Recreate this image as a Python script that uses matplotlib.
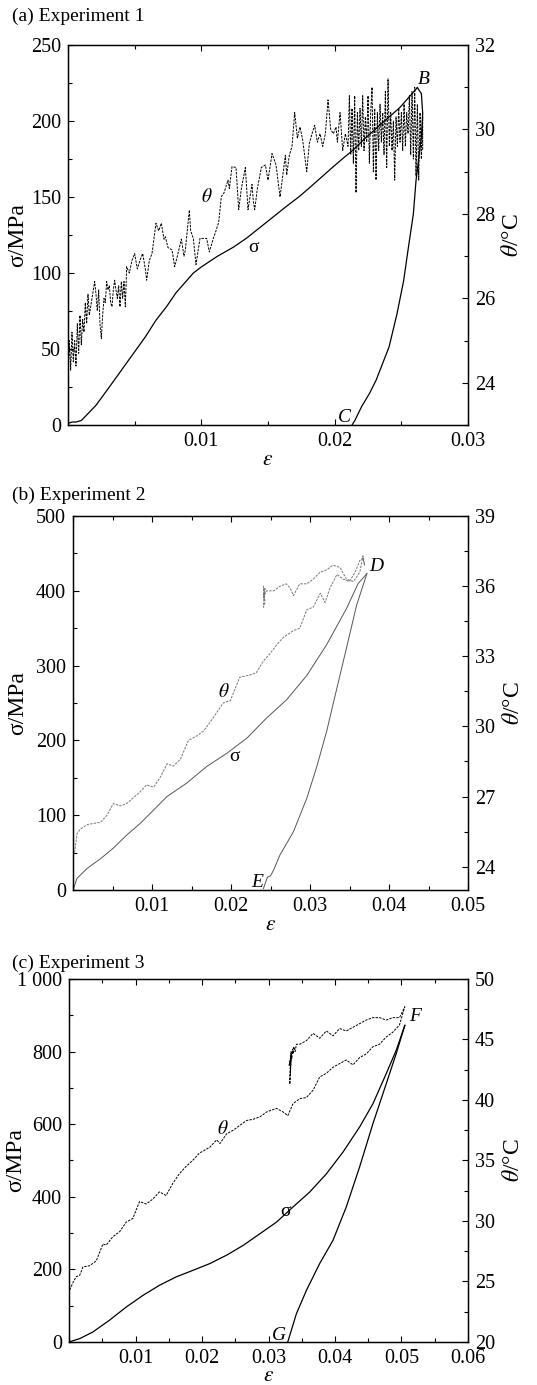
import numpy as np
import matplotlib
matplotlib.use("Agg")
import matplotlib.pyplot as plt
from matplotlib.ticker import MultipleLocator, FixedLocator

plt.rcParams['font.family'] = ['Liberation Serif', 'DejaVu Serif']
plt.rcParams['mathtext.fontset'] = 'stix'

# ---------------- Experiment 1 ----------------
eps_a_load = [0.0, 0.0003, 0.0006, 0.0010, 0.0014, 0.0021, 0.0031, 0.0040, 0.0049, 0.0058,
              0.0066, 0.0074, 0.0081, 0.0088, 0.0094, 0.0100, 0.0112, 0.0124, 0.0134, 0.0144,
              0.0154, 0.0164, 0.0173, 0.0181, 0.0190, 0.0199, 0.0207, 0.0214, 0.0222, 0.0231,
              0.0240, 0.0249, 0.0256, 0.0262]
sig_a_load = [1, 2, 2, 3, 6.6, 13, 25, 36, 47, 58,
              69, 78, 87, 94, 100, 104, 111, 117, 123, 130,
              137, 144, 150, 156, 163, 170, 176, 181, 188, 195,
              202, 209, 216, 222]
eps_a_unl = [0.0262, 0.0265, 0.0266, 0.0265, 0.0263, 0.0261, 0.0259, 0.02553, 0.02517, 0.02468,
             0.02408, 0.02311, 0.02262, 0.02201, 0.02153, 0.0213]
sig_a_unl = [222, 218, 205, 190, 175, 161, 139, 117, 95, 73.5,
             51.5, 29.6, 21, 12, 3.3, 0]

eps_a_th = [0.0000, 0.0001, 0.0002, 0.0003, 0.0004, 0.0005, 0.0006, 0.0007, 0.0008, 0.0009,
            0.0010, 0.0011, 0.0012, 0.0013, 0.0014, 0.0015, 0.0016, 0.0018, 0.0020, 0.0021,
            0.0022, 0.0023, 0.0024, 0.0025, 0.0026, 0.0027, 0.0028, 0.0029, 0.0030, 0.0031,
            0.0032, 0.0033, 0.0034, 0.0035, 0.0036, 0.0037, 0.0038, 0.0039, 0.0040, 0.0041,
            0.0042, 0.0043, 0.0044, 0.0046, 0.0048, 0.0050, 0.0052, 0.0054, 0.0056, 0.0058,
            0.0059, 0.0061, 0.0063, 0.0066, 0.0068, 0.0070, 0.0072, 0.0073, 0.0075, 0.0078,
            0.0080, 0.0082, 0.0085, 0.0087, 0.0088, 0.0091, 0.0092, 0.0094, 0.0096, 0.0099,
            0.0102, 0.0104, 0.0106, 0.0109, 0.0111, 0.0113, 0.0115, 0.0117, 0.0118, 0.0120,
            0.0121, 0.0123, 0.0126, 0.0127, 0.0128, 0.0130, 0.0133, 0.0134, 0.0135, 0.0137,
            0.0138, 0.0139, 0.0140, 0.0142, 0.0145, 0.0148, 0.0150, 0.0153, 0.0156, 0.0159,
            0.0161, 0.0163, 0.0164, 0.0166, 0.0168, 0.0170, 0.0172, 0.0174, 0.0176, 0.0179,
            0.0181, 0.0183, 0.0185, 0.0187, 0.0189, 0.0191, 0.0193, 0.0195, 0.0197, 0.0199,
            0.0201, 0.0202, 0.0204, 0.0206, 0.0208, 0.0209,
            0.0210, 0.0211, 0.0212, 0.0213, 0.0214, 0.0215, 0.0216, 0.0217, 0.0218, 0.0219,
            0.0220, 0.0221, 0.0222, 0.0223, 0.0224, 0.0225, 0.0226, 0.0227, 0.0228, 0.0229,
            0.0230, 0.0231, 0.0232, 0.0233, 0.0234, 0.0235, 0.0236, 0.0237, 0.0238, 0.0239,
            0.0240, 0.0241, 0.0242, 0.0243, 0.0244, 0.0245, 0.0246, 0.0247, 0.0248, 0.0249,
            0.0250, 0.0251, 0.0252, 0.0253, 0.0254, 0.0255, 0.0256, 0.0257, 0.0258, 0.0259,
            0.0260, 0.0261, 0.0262, 0.0263, 0.0264, 0.0265, 0.0266, 0.0266]
theta_a = [24.2, 25.0, 24.3, 25.2, 24.5, 25.0, 24.4, 25.4, 24.7, 25.6,
           24.9, 25.5, 25.2, 25.9, 25.4, 26.1, 25.6, 26.0, 26.4, 26.1,
           25.7, 26.2, 25.4, 25.05, 25.6, 26.0, 25.9, 26.4, 26.2, 26.3,
           25.9, 25.8, 26.2, 26.43, 26.2, 26.0, 26.3, 25.8, 26.4, 26.0,
           26.4, 25.8, 26.75, 26.6, 26.9, 27.06, 26.7, 26.9, 27.06, 26.7,
           26.43, 26.9, 27.06, 27.78, 27.6, 27.78, 27.4, 27.46, 27.2, 27.15,
           26.75, 27.0, 27.4, 27.0, 27.15, 28.09, 27.6, 27.42, 26.8, 27.42,
           27.42, 27.42, 27.1, 27.42, 27.6, 27.8, 28.41, 28.5, 28.6, 28.8,
           28.6, 29.12, 29.1, 28.6, 28.1, 28.6, 29.1, 28.6, 28.1, 28.5,
           28.7, 28.3, 28.1, 28.6, 29.1, 29.16, 28.8, 29.43, 29.16, 28.4,
           28.9, 29.39, 28.92, 29.39, 29.6, 30.4, 29.8, 30.06, 29.75, 29.0,
           29.67, 29.9, 30.1, 29.7, 29.9, 29.6, 29.9, 30.7, 30.0, 29.9,
           30.06, 29.7, 30.4, 29.5, 29.9, 29.75,
           29.6, 30.8, 29.4, 30.5, 29.2, 30.8, 28.5, 30.4, 29.5, 30.5,
           29.6, 30.8, 29.5, 30.3, 29.7, 30.8, 29.2, 30.4, 31.0, 29.0,
           30.5, 28.8, 30.4, 29.5, 30.6, 29.7, 30.4, 29.4, 30.9, 29.1,
           31.2, 29.6, 30.4, 29.5, 30.2, 28.8, 30.3, 29.6, 30.5, 29.7,
           30.4, 29.5, 30.6, 29.6, 30.4, 29.9, 30.8, 29.4, 30.9, 29.3,
           31.0, 28.9, 30.6, 28.8, 30.4, 29.3, 30.3, 29.5]

# ---------------- Experiment 2 ----------------
eps_b_load = [0.0, 0.0005, 0.0018, 0.0035, 0.0051, 0.0068, 0.0085, 0.0102, 0.0119, 0.0144,
              0.0169, 0.0195, 0.0220, 0.0245, 0.0270, 0.0296, 0.0321, 0.0346, 0.0361, 0.0372]
sig_b_load = [0, 15.6, 29, 42, 56, 73.5, 89, 107, 125, 143,
              165, 183, 203, 230, 254, 287, 328, 376, 410, 423]
eps_b_unl = [0.0372, 0.0359, 0.0346, 0.0334, 0.0321, 0.0308, 0.0296, 0.0279, 0.0262, 0.0254,
             0.0250, 0.0246, 0.0241]
sig_b_unl = [423, 381, 323, 270, 212, 163, 123, 78, 47, 27,
             19, 17, 2]

eps_b_th = [0.0002, 0.0005, 0.0009, 0.0018, 0.0035, 0.0043, 0.0051, 0.0060, 0.0068, 0.0085,
            0.0093, 0.0102, 0.0110, 0.0119, 0.0127, 0.0136, 0.0146, 0.0157, 0.0165, 0.0174,
            0.0182, 0.0190, 0.0199, 0.0205, 0.0211, 0.0224, 0.0232, 0.0241, 0.0249, 0.0258,
            0.0266, 0.0279, 0.0287, 0.0296, 0.0304, 0.0313, 0.0319, 0.0325, 0.0334, 0.0342,
            0.0350, 0.0357, 0.0363, 0.0367, 0.0369,
            0.0367, 0.0363, 0.0355, 0.0346, 0.0338, 0.0329, 0.0321, 0.0313, 0.0304, 0.0296,
            0.0287, 0.0279, 0.0275, 0.0270, 0.0262, 0.0254, 0.0245, 0.0242, 0.0241, 0.0243,
            0.0241, 0.0242, 0.0241, 0.0243, 0.0242]
theta_b = [24.6, 25.4, 25.6, 25.8, 25.9, 26.2, 26.7, 26.6, 26.7, 27.2,
           27.5, 27.4, 27.8, 28.4, 28.3, 28.6, 29.4, 29.6, 29.8, 30.2,
           30.6, 31.0, 31.1, 31.6, 32.1, 32.2, 32.3, 32.8, 33.1, 33.5,
           33.8, 34.1, 34.2, 35.0, 35.1, 35.7, 35.3, 35.9, 36.5, 36.3,
           36.2, 36.6, 37.1, 37.2, 36.9,
           37.3, 36.6, 36.2, 36.3, 36.8, 36.9, 36.7, 36.6, 36.3, 36.1,
           36.1, 35.6, 35.9, 36.1, 36.0, 35.8, 35.8, 35.6, 36.0, 35.3,
           35.1, 35.7, 35.5, 35.9, 35.4]

# ---------------- Experiment 3 ----------------
eps_c_load = [0.0, 0.0016, 0.0036, 0.0061, 0.0086, 0.0111, 0.0136, 0.0161, 0.0186, 0.0212,
              0.0237, 0.0262, 0.0287, 0.0312, 0.0337, 0.0362, 0.0387, 0.0412, 0.0437, 0.0457,
              0.0477, 0.0492, 0.0505]
sig_c_load = [0, 9, 27.5, 60, 96, 128, 156, 179, 197, 216,
              239, 266, 298, 330, 372, 413, 463, 523, 592, 656,
              739, 803, 872]
eps_c_unl = [0.0505, 0.0492, 0.0477, 0.0457, 0.0437, 0.0417, 0.0397, 0.0377, 0.0357, 0.0342,
             0.0329]
sig_c_unl = [872, 794, 711, 601, 482, 372, 280, 216, 142, 78,
             0]

eps_c_th = [0.0001, 0.0006, 0.0011, 0.0016, 0.0021, 0.0031, 0.0041, 0.0046, 0.0051, 0.0056,
            0.0066, 0.0076, 0.0086, 0.0096, 0.0106, 0.0116, 0.0126, 0.0136, 0.0146, 0.0156,
            0.0166, 0.0176, 0.0186, 0.0196, 0.0212, 0.0222, 0.0227, 0.0237, 0.0247, 0.0257,
            0.0267, 0.0277, 0.0287, 0.0297, 0.0312, 0.0322, 0.0329, 0.0337, 0.0347, 0.0357,
            0.0367, 0.0377, 0.0387, 0.0397, 0.0407, 0.0417, 0.0427, 0.0437, 0.0447, 0.0457,
            0.0467, 0.0477, 0.0487, 0.0497, 0.0505,
            0.0497, 0.0487, 0.0477, 0.0467, 0.0457, 0.0447, 0.0437, 0.0427, 0.0417, 0.0407,
            0.0397, 0.0387, 0.0377, 0.0367, 0.0357, 0.0347, 0.0342, 0.0340, 0.0338, 0.0337,
            0.0336, 0.0335, 0.0334, 0.0333, 0.0334, 0.0332, 0.0333, 0.0331, 0.0332]
theta_c = [24.3, 24.9, 25.4, 25.5, 26.2, 26.3, 26.7, 27.4, 28.1, 28.0,
           28.7, 29.1, 29.9, 30.2, 31.6, 31.4, 31.8, 32.4, 32.1, 33.1,
           33.9, 34.5, 35.0, 35.6, 36.1, 36.7, 36.4, 37.2, 37.5, 37.9,
           38.3, 38.4, 38.6, 39.0, 39.3, 39.0, 38.7, 39.7, 40.1, 40.2,
           40.8, 41.9, 42.2, 42.7, 43.0, 43.3, 42.9, 43.5, 43.8, 44.4,
           44.6, 45.2, 45.6, 46.2, 47.7,
           46.8, 46.8, 46.6, 46.8, 46.8, 46.6, 46.3, 46.0, 45.7, 45.9,
           45.3, 45.7, 45.1, 45.5, 44.9, 44.6, 44.6, 44.0, 44.4, 43.8,
           44.2, 43.4, 44.0, 42.2, 43.8, 41.3, 43.5, 42.8, 43.2]

panels = [
    dict(title='(a) Experiment 1', title_y=16, rect=[0.1266, 0.6931, 0.745, 0.2744],
         xlim=(0, 0.03), xmaj=0.01, ylim=(0, 250), ymaj=50, ymin=25,
         tlim=(23, 32), tticks=[24, 26, 28, 30, 32], tmin=1,
         load=(eps_a_load, sig_a_load), unl=(eps_a_unl, sig_a_unl), th=(eps_a_th, theta_a),
         col='black', thcol='black', lw=0.9,
         labels=[('B', 0.0267, 227), ('C', 0.0207, 5)], th_lab=(0.0104, 150), s_lab=(0.0139, 117),
         ylabels=None, lab_x=(-0.125, 1.112), lab_y=-0.092),
    dict(title='(b) Experiment 2', title_y=495, rect=[0.136, 0.3574, 0.7356, 0.27],
         xlim=(0, 0.05), xmaj=0.01, ylim=(0, 500), ymaj=100, ymin=50,
         tlim=(23, 39), tticks=[24, 27, 30, 33, 36, 39], tmin=1.5,
         load=(eps_b_load, sig_b_load), unl=(eps_b_unl, sig_b_unl), th=(eps_b_th, theta_b),
         col='#555555', thcol='#777777', lw=0.7,
         labels=[('D', 0.0384, 432), ('E', 0.0233, 10)], th_lab=(0.0191, 265), s_lab=(0.0205, 178),
         ylabels=None, lab_x=(-0.139, 1.114), lab_y=-0.094),
    dict(title='(c) Experiment 3', title_y=963, rect=[0.1285, 0.0311, 0.743, 0.2621],
         xlim=(0, 0.06), xmaj=0.01, ylim=(0, 1000), ymaj=200, ymin=100,
         tlim=(20, 50), tticks=[20, 25, 30, 35, 40, 45, 50], tmin=2.5,
         load=(eps_c_load, sig_c_load), unl=(eps_c_unl, sig_c_unl), th=(eps_c_th, theta_c),
         col='black', thcol='black', lw=0.9,
         labels=[('F', 0.0521, 897), ('G', 0.0316, 17)], th_lab=(0.0232, 587), s_lab=(0.0326, 360),
         ylabels=['0', '200', '400', '600', '800', '1 000'], lab_x=(-0.133, 1.113), lab_y=-0.094),
]

fig = plt.figure(figsize=(5.37, 13.85), dpi=100)
H = 1385.0
fs = 14.5    # tick labels
lfs = 17     # axis labels

for p in panels:
    ax = fig.add_axes(p['rect'])
    ax.plot(*p['load'], color=p['col'], lw=p['lw'])
    ax.plot(*p['unl'], color=p['col'], lw=p['lw'])
    ax.set_xlim(*p['xlim'])
    ax.set_ylim(*p['ylim'])

    xt = np.arange(p['xlim'][0], p['xlim'][1] + 1e-9, p['xmaj'])
    ax.xaxis.set_major_locator(FixedLocator(xt))
    ax.set_xticklabels([''] + ['%g' % v for v in xt[1:]])
    ax.xaxis.set_minor_locator(MultipleLocator(p['xmaj'] / 2))
    ax.yaxis.set_major_locator(MultipleLocator(p['ymaj']))
    ax.yaxis.set_minor_locator(MultipleLocator(p['ymin']))
    if p['ylabels']:
        ax.set_yticks(np.arange(0, p['ylim'][1] + 1, p['ymaj']))
        ax.set_yticklabels(p['ylabels'])
    ax.tick_params(which='both', direction='in', top=True, right=False, labelsize=fs, pad=5)
    ax.tick_params(which='major', length=4.5, width=0.8)
    ax.tick_params(which='minor', length=3, width=0.8)
    ax.set_xlabel(r'$\varepsilon$', fontsize=fs + 1)
    ax.xaxis.set_label_coords(0.5, p['lab_y'])
    ax.xaxis.label.set_verticalalignment('center')
    ax.set_ylabel('σ/MPa', fontsize=lfs)
    ax.yaxis.set_label_coords(p['lab_x'][0], 0.5)

    ax2 = ax.twinx()
    ax2.plot(*p['th'], color=p['thcol'], lw=0.7, dashes=(2.5, 1.2))
    ax2.set_ylim(*p['tlim'])
    ax2.set_yticks(p['tticks'])
    ax2.yaxis.set_minor_locator(MultipleLocator(p['tmin']))
    ax2.tick_params(which='both', direction='in', labelsize=fs, pad=5)
    ax2.tick_params(which='major', length=4.5, width=0.8)
    ax2.tick_params(which='minor', length=3, width=0.8)
    ax2.set_ylabel(r'$\theta$/°C', fontsize=lfs)
    ax2.yaxis.set_label_coords(p['lab_x'][1], 0.5)
    ax2.yaxis.label.set_verticalalignment('center')
    ax.yaxis.label.set_verticalalignment('center')

    for s in list(ax.spines.values()):
        s.set_linewidth(1.0)

    for txt, xx, yy in p['labels']:
        ax.text(xx, yy, txt, fontsize=14, style='italic', ha='center', va='center')
    ax.text(*p['th_lab'], r'$\theta$', fontsize=14, ha='center', va='center')
    ax.text(*p['s_lab'], 'σ', fontsize=14, ha='center', va='center')

    fig.text(0.022, 1 - p['title_y'] / H, p['title'], fontsize=14, ha='left', va='center')

fig.savefig('out.png', dpi=100)
